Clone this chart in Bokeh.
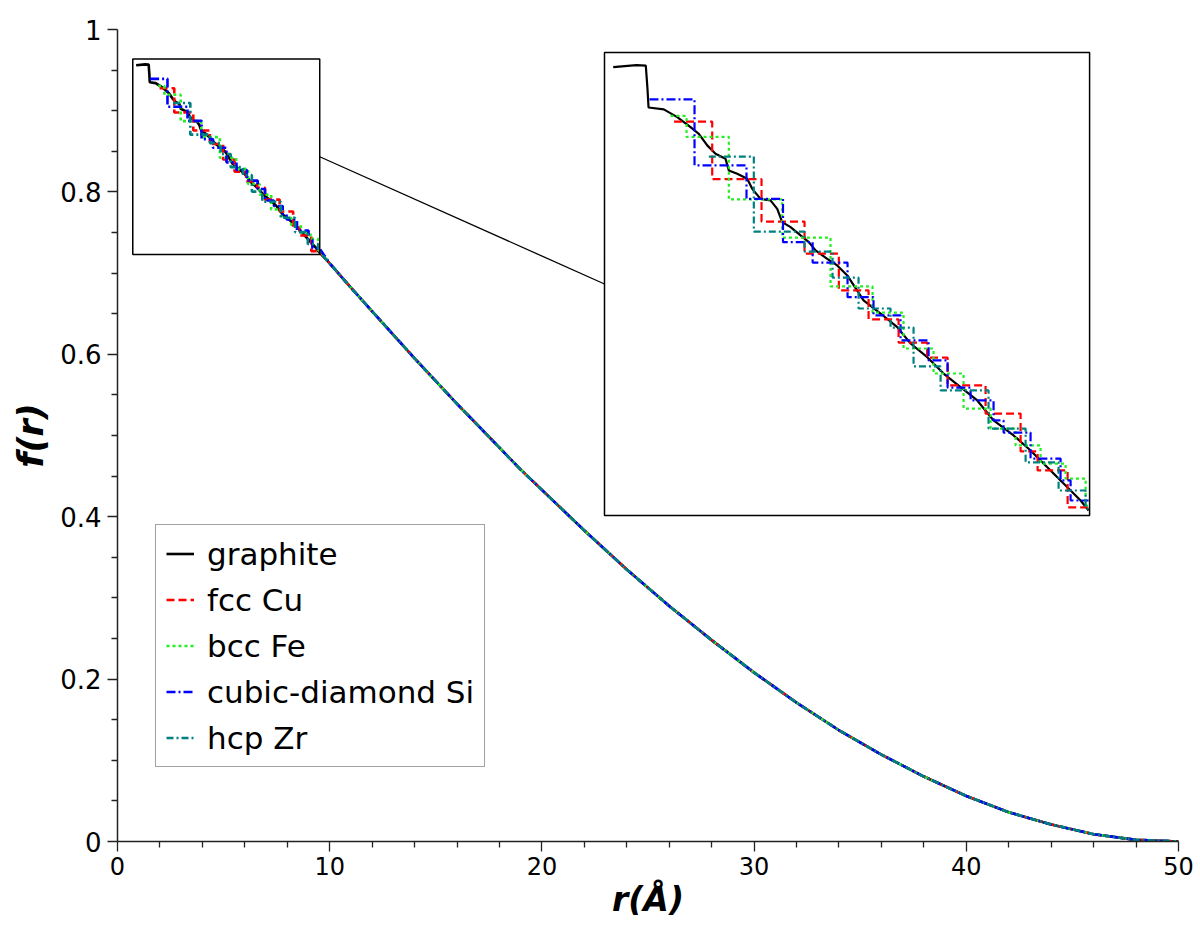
from bokeh.plotting import figure
from bokeh.models import Range1d, FixedTicker, CustomJSTickFormatter, Legend, LegendItem
from bokeh.embed import file_html
from bokeh.resources import INLINE

# ---------------------------------------------------------------- data
# graphite, fine structure at short distances (r in Angstrom, f dimensionless)
graphite_r = [0.878, 1.30, 1.47, 1.50, 1.52, 1.797, 2.041, 2.282, 2.433, 2.586,
              2.736, 2.918, 2.978, 3.131, 3.312, 3.403, 3.554, 3.735, 3.857, 3.948,
              4.099, 4.281, 4.431, 4.553, 4.765, 4.947, 5.129, 5.425, 5.734, 6.037,
              6.279, 6.582, 6.878, 7.187, 7.490, 7.786, 8.150, 8.458, 8.762, 9.058,
              9.367, 9.512]
graphite_f = [0.9560, 0.9570, 0.9568, 0.9450, 0.9350, 0.9340, 0.9300, 0.9248, 0.9213, 0.9153,
              0.9109, 0.9083, 0.9023, 0.9005, 0.8979, 0.8927, 0.8875, 0.8867, 0.8823, 0.8754,
              0.8728, 0.8685, 0.8650, 0.8607, 0.8563, 0.8529, 0.8477, 0.8347, 0.8279, 0.8208,
              0.8123, 0.8052, 0.7967, 0.7896, 0.7827, 0.7723, 0.7645, 0.7567, 0.7480, 0.7395,
              0.7307, 0.7255]

# stepped crystals: step edges (start, drops..., end) and the level held after each edge
cu_r = [1.983, 2.676, 3.572, 4.353, 4.976, 5.516, 6.061, 6.58, 6.951, 7.641, 8.277, 8.586, 9.131, 9.512]
cu_f = [0.9277, 0.8978, 0.8757, 0.8590, 0.8399, 0.8248, 0.8128, 0.8050, 0.7905, 0.7759, 0.7562, 0.7463, 0.7271]

fe_r = [1.919, 2.210, 2.978, 3.948, 4.825, 5.588, 6.151, 6.696, 7.241, 7.732, 8.186, 8.640, 9.094, 9.458, 9.512]
fe_f = [0.9306, 0.9197, 0.8872, 0.8674, 0.8420, 0.8284, 0.8097, 0.7967, 0.7785, 0.7681, 0.7593, 0.7499, 0.7421, 0.7281]

si_r = [1.537, 2.355, 3.299, 3.962, 4.50, 5.134, 5.606, 6.097, 6.606, 6.951, 7.369, 7.786, 7.968,
        8.458, 9.003, 9.185, 9.512]
si_f = [0.9392, 0.9049, 0.8875, 0.8650, 0.8544, 0.8364, 0.8269, 0.8139, 0.8035, 0.7894, 0.7827,
        0.7723, 0.7660, 0.7525, 0.7411, 0.7307]

zr_r = [2.615, 3.432, 4.353, 4.862, 5.334, 5.915, 6.333, 6.824, 7.695, 8.368, 8.967, 9.458, 9.512]
zr_f = [0.9095, 0.8705, 0.8601, 0.8466, 0.8305, 0.8206, 0.8004, 0.7879, 0.7681, 0.7505, 0.7359, 0.7265]

# common long-range decay shared by all structures
tail_r = [10, 11, 12, 13, 14, 15, 16, 17, 18, 19, 20, 22, 24, 26, 28, 30, 32, 34, 36, 38,
          40, 42, 44, 46, 48, 50]
tail_f = [0.712, 0.682, 0.653, 0.624, 0.595, 0.567, 0.539, 0.512, 0.485, 0.458, 0.433,
          0.383, 0.335, 0.290, 0.248, 0.208, 0.171, 0.137, 0.107, 0.080, 0.056, 0.036,
          0.021, 0.009, 0.002, 0.000]

labels = ["graphite", "fcc Cu", "bcc Fe", "cubic-diamond Si", "hcp Zr"]
x_ticks = [0, 10, 20, 30, 40, 50]
y_ticks = [0, 0.2, 0.4, 0.6, 0.8, 1]

# ---------------------------------------------------------------- layout
FONT = "DejaVu Sans"
ZOOM_X = (0.72, 9.53)          # magnified window, data units
ZOOM_Y = (0.7229, 0.9636)
INSET_X = (22.95, 45.81)       # where the magnified view sits, main-axis units
INSET_Y = (0.4015, 0.9717)
X_RANGE = (0, 50)
Y_RANGE = (0, 1)


def staircase(edges, levels):
    xs, ys = [edges[0]], [levels[0]]
    for i in range(1, len(edges)):
        xs.append(edges[i]); ys.append(levels[i - 1])
        if i < len(levels):
            xs.append(edges[i]); ys.append(levels[i])
    return xs, ys


def linmap(v, a, b, c, d):
    return c + (v - a) * (d - c) / (b - a)


# extra ranges so the magnified window lands inside the inset box
zx = Range1d(linmap(X_RANGE[0], *INSET_X, *ZOOM_X), linmap(X_RANGE[1], *INSET_X, *ZOOM_X))
zy = Range1d(linmap(Y_RANGE[0], *INSET_Y, *ZOOM_Y), linmap(Y_RANGE[1], *INSET_Y, *ZOOM_Y))

p = figure(frame_width=1061, frame_height=812,
           x_range=Range1d(*X_RANGE), y_range=Range1d(*Y_RANGE),
           extra_x_ranges={"zx": zx}, extra_y_ranges={"zy": zy},
           output_backend="svg", toolbar_location=None,
           min_border_left=117, min_border_right=22, min_border_top=29, min_border_bottom=93)
p.grid.visible = False
p.outline_line_color = None
p.background_fill_color = "white"

for ax in (p.xaxis[0], p.yaxis[0]):
    ax.axis_line_width = 1.5
    ax.axis_line_color = "#222222"
    ax.major_tick_line_color = "#222222"
    ax.minor_tick_line_color = "#222222"
    ax.major_tick_line_width = 1.3
    ax.minor_tick_line_width = 1.3
    ax.major_tick_out = 10
    ax.major_tick_in = 0
    ax.minor_tick_out = 6
    ax.minor_tick_in = 0
    ax.major_label_text_font = FONT
    ax.major_label_text_color = "black"
    ax.axis_label_text_font = FONT
    ax.axis_label_text_font_style = "bold italic"
    ax.axis_label_text_color = "black"
    ax.formatter = CustomJSTickFormatter(code="return String(tick);")

p.xaxis.major_label_text_font_size = "24px"
p.yaxis.major_label_text_font_size = "26px"
p.xaxis.axis_label_text_font_size = "33px"
p.yaxis.axis_label_text_font_size = "35px"

p.xaxis.ticker = FixedTicker(ticks=x_ticks, minor_ticks=[v for v in range(0, 51, 2) if v % 10])
p.yaxis.ticker = FixedTicker(ticks=y_ticks,
                             minor_ticks=[round(0.05 * k, 2) for k in range(21) if k % 4])
p.xaxis.axis_label = "r(Å)"
p.yaxis.axis_label = "f(r)"
p.xaxis.major_label_standoff = 5
p.yaxis.major_label_standoff = 6
p.xaxis.axis_label_standoff = 2
p.yaxis.axis_label_standoff = 6

styles = [
    ("#000000", "solid"),
    ("#ff0000", "8 4"),
    ("#22ee22", "3 3"),
    ("#0000ff", "9 3 2 3"),
    ("#008080", "7 3 2 3"),
]

series = [(graphite_r, graphite_f)]
for edges, levels in [(cu_r, cu_f), (fe_r, fe_f), (si_r, si_f), (zr_r, zr_f)]:
    series.append(staircase(edges, levels))

# full curves on the main axes
main_renderers = []
for (xs, ys), (col, dash) in zip(series, styles):
    r = p.line(list(xs) + tail_r, list(ys) + tail_f, line_color=col, line_dash=dash, line_width=2.6)
    main_renderers.append(r)

# outline of the magnified window
p.quad(left=[ZOOM_X[0]], right=[ZOOM_X[1]], bottom=[ZOOM_Y[0]], top=[ZOOM_Y[1]],
       fill_color=None, line_color="black", line_width=1.5)

# inset frame
p.quad(left=[INSET_X[0]], right=[INSET_X[1]], bottom=[INSET_Y[0]], top=[INSET_Y[1]],
       fill_color="white", line_color="black", line_width=1.5)

# connector between the window and the inset
p.segment(x0=[ZOOM_X[1]], y0=[(ZOOM_Y[0] + ZOOM_Y[1]) / 2],
          x1=[INSET_X[0]], y1=[(INSET_Y[0] + INSET_Y[1]) / 2],
          line_color="black", line_width=1.3)

# magnified curves
for (xs, ys), (col, dash) in zip(series, styles):
    p.line(xs, ys, line_color=col, line_dash=dash, line_width=2.2,
           x_range_name="zx", y_range_name="zy")

legend = Legend(items=[LegendItem(label=lab, renderers=[rr]) for lab, rr in zip(labels, main_renderers)],
                location=(38, 74))
legend.label_text_font = FONT
legend.label_text_font_size = "31px"
legend.label_text_color = "black"
legend.glyph_width = 28
legend.glyph_height = 37
legend.label_height = 37
legend.spacing = 9
legend.padding = 10
legend.margin = 0
legend.label_standoff = 13
legend.border_line_color = "#444444"
legend.border_line_width = 1.5
legend.background_fill_alpha = 1.0
p.add_layout(legend)

open("out.html", "w").write(file_html(p, INLINE))
